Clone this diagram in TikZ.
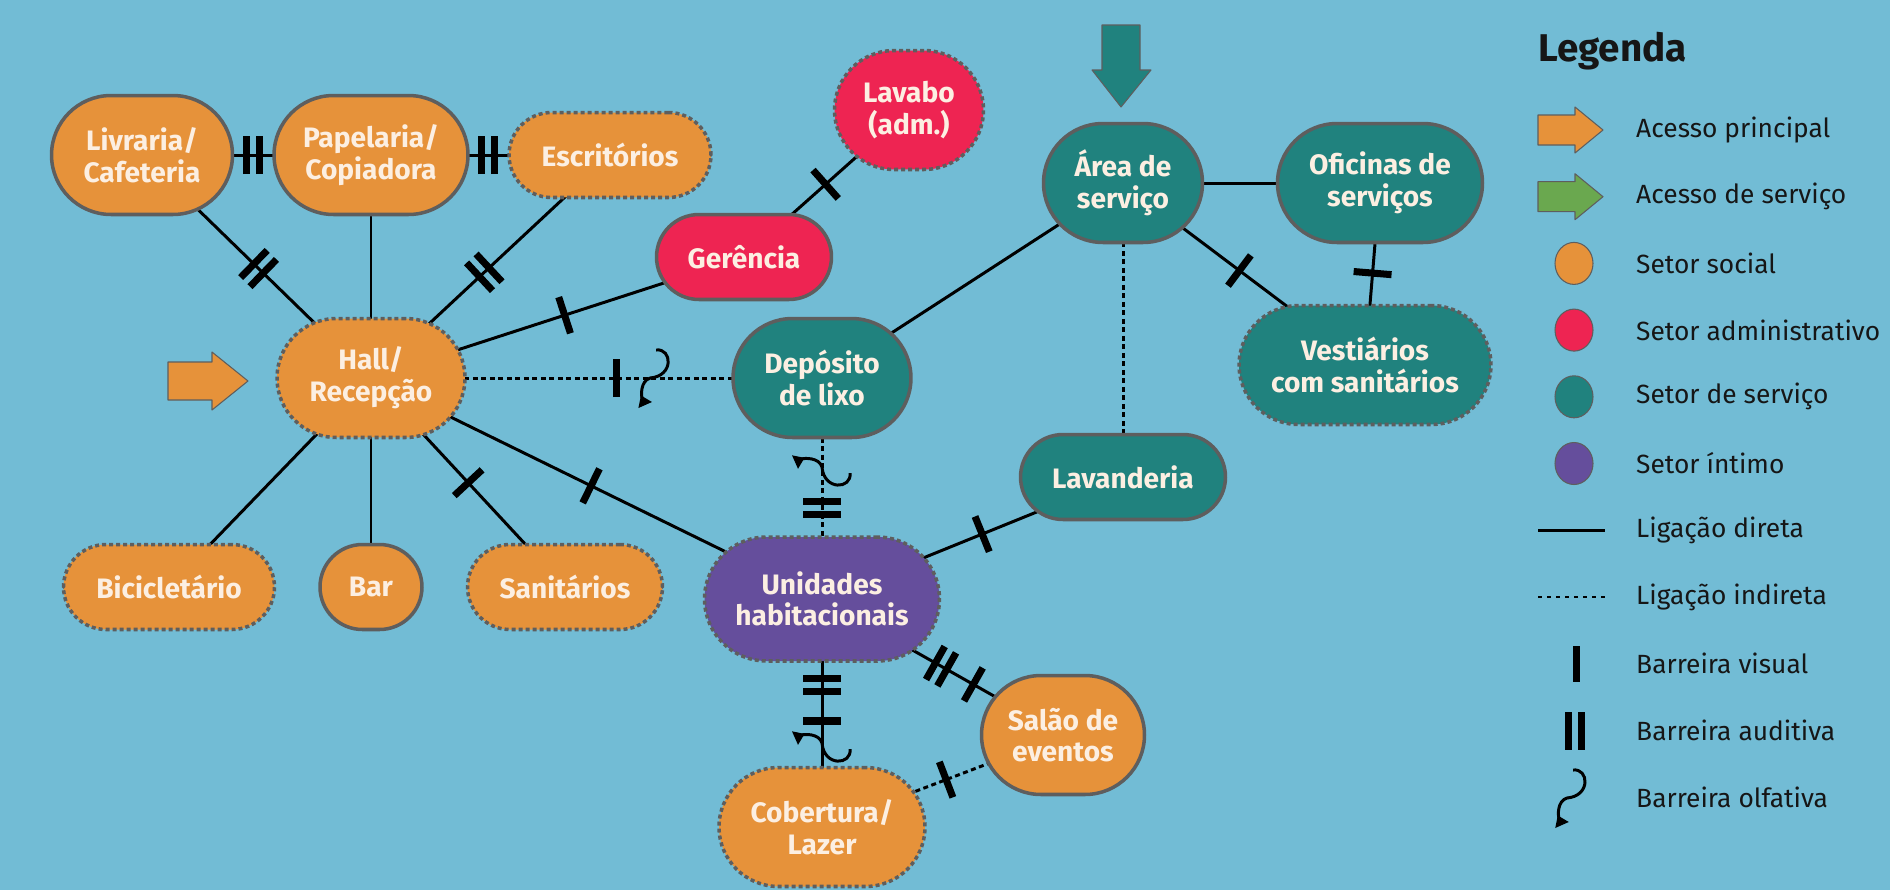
\documentclass[tikz,border=0pt]{standalone}
\usepackage{fontspec}
\setmainfont{Fira Sans}
\usetikzlibrary{decorations.markings,arrows.meta}
\definecolor{fundo}{HTML}{72BCD5}
\definecolor{social}{HTML}{E6923A}
\definecolor{adm}{HTML}{EE2452}
\definecolor{servico}{HTML}{20827E}
\definecolor{intimo}{HTML}{654E9C}
\definecolor{verde}{HTML}{6AA84F}
\definecolor{borda}{HTML}{5E5E5E}
\definecolor{letra}{HTML}{FCEFE2}
\definecolor{tinta}{HTML}{161616}
\pgfdeclarelayer{chao}
\pgfdeclarelayer{linhas}
\pgfsetlayers{chao,linhas,main}
\tikzset{
  setor/.style={rectangle,draw=borda,line width=2pt,text=letra,align=center,inner sep=1pt,
    font=\fontsize{16}{18}\selectfont\bfseries},
  baixo/.style={setor,minimum height=1.7cm,rounded corners=0.85cm},
  alto/.style={setor,minimum height=2.38cm,rounded corners=1.19cm},
  pontilhado/.style={dash pattern=on 0.08cm off 0.06cm},
  lig/.style={line width=1.7pt},
  ind/.style={line width=1.7pt,dash pattern=on 0.1cm off 0.07cm},
  vis/.style={postaction={decorate,decoration={markings,mark=at position #1 with
    {\draw[solid,line width=4pt] (0,-19) -- (0,19);}}}},
  aud/.style={postaction={decorate,decoration={markings,mark=at position #1 with
    {\draw[solid,line width=4pt] (-6.5,-19) -- (-6.5,19) (6.5,-19) -- (6.5,19);}}}},
  olf/.style={postaction={decorate,decoration={markings,mark=at position #1 with
    {\pic[transform shape] {olfato};}}}},
  olfato/.pic={\draw[solid,line width=1.7pt,-{Triangle[reversed,length=6pt,width=8pt]}]
    (6,28) .. controls (22,30) and (24,2) .. (0,0) .. controls (-10,-3) and (-9,-18) .. (-5,-27);},
  legenda/.style={anchor=west,text=tinta,font=\fontsize{15}{18}\selectfont}
}
\begin{document}
\begin{tikzpicture}[x=0.02cm,y=0.02cm,line join=round]
\useasboundingbox (0,0) rectangle (1890,-890);
\begin{pgfonlayer}{chao}
\fill[fundo] (0,0) rectangle (1890,-890);
\end{pgfonlayer}

\node[alto,fill=social,minimum width=3.62cm] (lib) at (142,-155) {Livraria/\\Cafeteria};
\node[alto,fill=social,minimum width=3.88cm] (pap) at (371,-155) {Papelaria/\\Copiadora};
\node[baixo,pontilhado,fill=social,minimum width=4.04cm] (esc) at (610,-155) {Escritórios};
\node[alto,pontilhado,fill=adm,minimum width=2.98cm] (lav) at (909,-110) {Lavabo\\(adm.)};
\node[baixo,fill=adm,minimum width=3.5cm] (ger) at (744,-257) {Gerência};
\node[alto,fill=servico,minimum width=3.18cm] (area) at (1123,-183) {Área de\\serviço};
\node[alto,fill=servico,minimum width=4.1cm] (ofi) at (1380,-183) {Oficinas de\\serviços};
\node[alto,pontilhado,fill=servico,minimum width=5.04cm] (vest) at (1365,-365) {Vestiários\\com sanitários};
\node[alto,pontilhado,fill=social,minimum width=3.76cm] (hall) at (371,-378) {Hall/\\Recepção};
\node[alto,fill=servico,minimum width=3.56cm] (dep) at (822,-378) {Depósito\\de lixo};
\node[baixo,fill=servico,minimum width=4.1cm] (lavand) at (1123,-477) {Lavanderia};
\node[baixo,pontilhado,fill=social,minimum width=4.22cm] (bic) at (169,-587) {Bicicletário};
\node[baixo,fill=social,minimum width=2.04cm] (bar) at (371,-587) {Bar};
\node[baixo,pontilhado,fill=social,minimum width=3.9cm] (san) at (565,-587) {Sanitários};
\node[alto,pontilhado,fill=intimo,minimum width=4.7cm,minimum height=2.48cm,rounded corners=1.24cm] (uni) at (822,-599) {Unidades\\habitacionais};
\node[alto,fill=social,minimum width=3.26cm] (salao) at (1063,-735) {Salão de\\eventos};
\node[alto,pontilhado,fill=social,minimum width=4.12cm] (cob) at (822,-827) {Cobertura/\\Lazer};

\begin{pgfonlayer}{linhas}
\draw[lig,aud=0.485] (lib.center) -- (pap.center);
\draw[lig,aud=0.49] (pap.center) -- (esc.center);
\draw[lig,aud=0.509] (lib.center) -- (hall.center);
\draw[lig] (pap.center) -- (hall.center);
\draw[lig,aud=0.526] (esc.center) -- (hall.center);
\draw[lig,vis=0.519] (hall.center) -- (ger.center);
\draw[lig,vis=0.496] (ger.center) -- (lav.center);
\draw[ind,vis=0.545,olf=0.619] (hall.center) -- (dep.center);
\draw[lig,vis=0.488] (hall.center) -- (uni.center);
\draw[lig,vis=0.501] (hall.center) -- (san.center);
\draw[lig] (hall.center) -- (bic.center);
\draw[lig] (hall.center) -- (bar.center);
\draw[lig] (dep.center) -- (area.center);
\draw[lig] (area.center) -- (ofi.center);
\draw[lig,vis=0.481] (area.center) -- (vest.center);
\draw[lig,vis=0.495] (ofi.center) -- (vest.center);
\draw[ind] (area.center) -- (lavand.center);
\draw[ind,olf=0.403,aud=0.588] (dep.center) -- (uni.center);
\draw[lig,vis=0.468] (lavand.center) -- (uni.center);
\draw[lig,aud=0.494,vis=0.628] (uni.center) -- (salao.center);
\draw[lig,aud=0.377,vis=0.535,olf=0.632] (uni.center) -- (cob.center);
\draw[ind,vis=0.485] (salao.center) -- (cob.center);
\end{pgfonlayer}

\filldraw[fill=social,draw=borda,line width=0.6pt] (168,-362) -- (212,-362) -- (212,-352) -- (248,-381) -- (212,-410) -- (212,-400) -- (168,-400) -- cycle;
\filldraw[fill=servico,draw=borda,line width=0.6pt] (1102,-25) -- (1140,-25) -- (1140,-70) -- (1151,-70) -- (1121,-107) -- (1092,-70) -- (1102,-70) -- cycle;

\node[anchor=west,text=tinta,font=\fontsize{22}{24}\selectfont\bfseries] (titulo) at (1532,-51) {Legenda};
\foreach \cor [count=\k from 0] in {social,verde}
  \filldraw[fill=\cor,draw=borda,line width=0.6pt,yshift={-66.7*\k*0.02cm}] (1538,-115) -- (1575,-115) -- (1575,-107) -- (1603,-130) -- (1575,-153) -- (1575,-145) -- (1538,-145) -- cycle;
\foreach \cor [count=\k from 2] in {social,adm,servico,intimo}
  \filldraw[fill=\cor,draw=borda,line width=0.6pt] (1574,{-130-66.7*\k}) ellipse [x radius=19,y radius=21];
\draw[line width=1.7pt] (1538,-530) -- (1605,-530);
\draw[line width=1.3pt,dash pattern=on 0.07cm off 0.11cm] (1538,-597) -- (1605,-597);
\draw[line width=4pt] (1576,-646) -- (1576,-682);
\draw[line width=4pt] (1568,-712) -- (1568,-750) (1581,-712) -- (1581,-750);
\pic at (1567,-798) {olfato};
\foreach \nome [count=\k from 0] in {Acesso principal,Acesso de serviço,Setor social,Setor administrativo,Setor de serviço,Setor íntimo,Ligação direta,Ligação indireta,Barreira visual,Barreira auditiva,Barreira olfativa}
  \node[legenda] (leg\k) at (1630,{-130-66.7*\k}) {\nome};
\end{tikzpicture}
\end{document}
